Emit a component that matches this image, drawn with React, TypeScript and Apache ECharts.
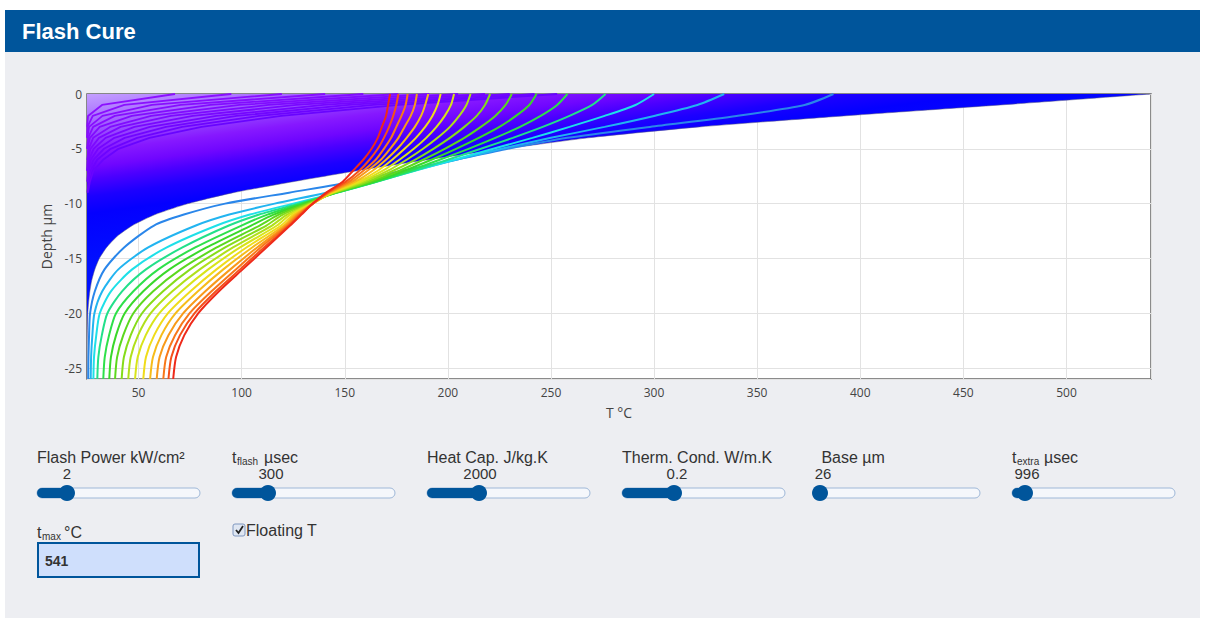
import React, { useEffect, useRef } from "react";
import * as echarts from "echarts";

// ---------- DATA (read / estimated from the reference picture) ----------
// Final profile at the end of the flash (depth in µm -> T in °C); fills the violet/blue band
const flashEndDepths = [0, 1, 2, 3, 4, 5, 6, 7, 8, 9, 10, 11, 12, 13, 14, 15, 16, 17, 18, 19, 20, 22, 24, 26];
const flashEndTemps = [541, 468, 392, 322, 268, 228, 190, 156, 125, 96, 74, 58, 47, 39.5, 34.5, 31, 28.8, 27.3, 26.4, 25.8, 25.4, 25.1, 25, 25];

// Early flash profiles (1 µm depth steps starting at the surface)
const earlyFlashTemps = [
  [67.7, 32.3, 25.5, 25],
  [95, 43.1, 27.8, 25.2, 25],
  [119.5, 56.5, 32.5, 26.0, 25.1],
  [140.5, 70.5, 38.5, 28.0, 25.5, 25],
  [159, 84.9, 46.7, 31.2, 26.4, 25.2],
  [176, 99, 56.1, 36.2, 28.0, 25.8, 25.1],
  [191, 113, 65.7, 41.3, 30.8, 26.7, 25.3, 25],
  [205, 126.5, 76.3, 48, 34, 28.2, 26, 25.2],
  [218, 139.8, 87.7, 55.5, 38.3, 30.4, 26.8, 25.6, 25.1],
  [230, 152, 97.6, 63.3, 43.3, 33.2, 28.1, 26.2, 25.3],
  [242, 163.9, 108.5, 71.2, 49.3, 36.5, 29.9, 27, 25.8, 25.2],
  [253, 176.4, 119.2, 80.6, 55.3, 40.3, 32.8, 28.1, 26.4, 25.4],
];

// Post-flash (cooling) profiles, first (cyan/blue) to last (red)
const postDepths = [0, 1, 2, 3, 4, 5, 6, 7, 8, 9, 10, 11, 12, 14, 16, 18, 20, 22, 24, 26];
const postFlashTemps = [
  [387, 373, 340, 298, 258, 229, 204, 178, 154, 123, 92, 72, 57.5, 43, 33.5, 28.8, 26.5, 26.0, 25.7, 25.6],
  [334, 321, 300, 276, 250, 226, 204, 183, 162, 141, 116, 94, 77.8, 54.7, 40.2, 32.4, 28.6, 27.6, 27.0, 26.8],
  [300, 291, 276, 259, 241, 222, 203, 184, 165, 146, 125, 104, 87.9, 63.7, 46.9, 36.6, 31.2, 29.5, 28.4, 28.1],
  [276.5, 270, 259, 246, 231.5, 216, 200, 183.5, 165.5, 146.5, 127.5, 108.5, 93.8, 71.3, 53.6, 42.0, 34.9, 32.2, 30.5, 30.0],
  [258, 253, 245, 235, 223, 210, 196, 181.5, 165, 146, 129, 112.5, 99.9, 77.5, 59.6, 47.5, 39.1, 35.7, 33.6, 32.9],
  [243, 239.5, 233, 225, 215, 204, 192, 179, 164, 146, 130.5, 115.5, 104.6, 83, 65, 52.3, 43.3, 39.1, 36.6, 35.8],
  [231, 228, 223, 216, 208, 198.5, 188, 176.5, 162.5, 145.5, 131.5, 118, 108.7, 87.9, 70.4, 57.1, 47.5, 42.6, 39.6, 38.6],
  [220.5, 218, 214, 208, 201, 193, 184, 173.5, 161, 145, 132.5, 120, 112, 92, 75, 61.9, 51.7, 46.2, 42.9, 41.8],
  [211, 209, 205.5, 201, 195, 188, 180, 171, 159.5, 144.5, 133.5, 122, 114.7, 95.8, 79.7, 66.4, 55.9, 49.8, 46.2, 45.0],
  [203, 201.5, 198.5, 194.5, 189.5, 183.5, 176.5, 168.5, 158, 144, 134, 123.5, 117.1, 99.2, 83.8, 70.9, 60.1, 53.5, 49.6, 48.3],
  [196.5, 195, 192.5, 189, 184.5, 179, 173, 166, 156.5, 143.5, 134.5, 125, 119.1, 102.3, 87.8, 75.2, 64.3, 57.6, 53.6, 52.3],
  [190.5, 189, 187, 184, 180, 175.5, 170, 163.5, 155, 143, 134.5, 126, 120.5, 105.1, 91.1, 78.8, 68, 61.1, 57.0, 55.6],
  [185, 184, 182, 179, 176, 172, 167.5, 161, 153.5, 142.5, 134.5, 127, 121.5, 107.5, 94.5, 82.4, 71.7, 64.5, 60.2, 58.8],
  [180.5, 179.5, 177.5, 175, 172.5, 169, 165, 159, 152, 142, 134.5, 127.8, 122.3, 109.2, 97.2, 85.4, 74.8, 67.7, 63.4, 62.0],
  [176, 175, 173.5, 171.5, 169, 166, 162, 157, 150.5, 141.5, 134.5, 128.5, 123, 110.8, 99.2, 87.5, 77.2, 70.1, 65.9, 64.5],
  [172, 171, 170, 168, 166, 163, 159, 154, 149, 141, 134.5, 129, 123.5, 112, 100.5, 89, 79, 72.2, 68.2, 66.8],
];

const earlyColors = ["#8c10ff", "#8a10ff", "#880eff", "#860eff", "#820cff", "#800cff", "#7c0aff", "#7808ff", "#7406ff", "#7006ff", "#6c04ff", "#6804ff"];
const postColors = ["#2a86ea", "#22b4f0", "#1ee0e8", "#22e08a", "#2ee04a", "#3ad82a", "#5cd81e", "#86dc1a", "#b0e01a", "#d8e41a", "#f0dc1a", "#f6bc1a", "#f89a1a", "#f8781a", "#f4501a", "#ee2a1a"];

// Controls
const sliderLabels = ["Flash Power kW/cm²", "", "Heat Cap. J/kg.K", "Therm. Cond. W/m.K", " Base µm", ""];
const sliderValues = ["2", "300", "2000", "0.2", "26", "996"];
const sliderX = [37, 232, 427, 622, 817, 1012];
const sliderThumbX = [67, 268, 479, 674, 820, 1025];
const valueCenterX = [67, 271, 480, 677, 823, 1027];

const FONT = '"Liberation Sans", Arial, sans-serif';
const BLUE = "#00559b";

export default function App() {
  const ref = useRef<HTMLDivElement>(null);

  useEffect(() => {
    const chart = echarts.init(ref.current as HTMLDivElement, null, { renderer: "svg", width: 1205, height: 621 });

    const series: any[] = [];
    series.push({
      type: "line",
      data: flashEndTemps.map((t, i) => [t, -flashEndDepths[i]]),
      symbol: "none",
      smooth: 0.2,
      silent: true,
      lineStyle: { color: "rgba(90,90,130,0.5)", width: 1 },
      areaStyle: {
        origin: "end",
        opacity: 1,
        color: new echarts.graphic.LinearGradient(0, 0, 0.24, 0.48, [
          { offset: 0, color: "#c4a0ff" },
          { offset: 0.12, color: "#ad78ff" },
          { offset: 0.24, color: "#9648ff" },
          { offset: 0.34, color: "#8618ff" },
          { offset: 0.43, color: "#7006ff" },
          { offset: 0.5, color: "#4c00ff" },
          { offset: 0.6, color: "#1c00ff" },
          { offset: 0.7, color: "#0400ff" },
          { offset: 1, color: "#0010ff" },
        ]),
      },
    });
    earlyFlashTemps.forEach((arr, k) => {
      series.push({
        type: "line",
        data: arr.map((t, i) => [t, -i]),
        symbol: "none",
        silent: true,
        lineStyle: { color: earlyColors[k], width: 1.8 },
      });
    });
    postFlashTemps.forEach((arr, k) => {
      series.push({
        type: "line",
        data: arr.map((t, i) => [t, -postDepths[i]]),
        symbol: "none",
        smooth: 0.25,
        silent: true,
        lineStyle: { color: postColors[k], width: 2 },
      });
    });

    const graphics: any[] = [
      { type: "rect", z: -10, shape: { x: 5, y: 10, width: 1195, height: 42 }, style: { fill: BLUE } },
      { type: "rect", z: -10, shape: { x: 5, y: 52, width: 1195, height: 566 }, style: { fill: "#edeef2" } },
      {
        type: "text", z: 5, x: 22, y: 31,
        style: { text: "Flash Cure", font: `bold 22px ${FONT}`, fill: "#ffffff", textVerticalAlign: "middle", verticalAlign: "middle" },
      },
    ];

    const txt = (text: string, x: number, y: number, size = 16, extra: any = {}) => ({
      type: "text", z: 5, x, y,
      style: { text, font: `${extra.bold ? "bold " : ""}${size}px ${FONT}`, fill: "#333333", textVerticalAlign: "middle", verticalAlign: "middle", textAlign: extra.align || "left", align: extra.align || "left" },
    });

    sliderX.forEach((sx, i) => {
      if (sliderLabels[i]) graphics.push(txt(sliderLabels[i], sx, 457));
      graphics.push(txt(sliderValues[i], valueCenterX[i], 473, 15, { align: "center" }));
      graphics.push({ type: "rect", z: 4, shape: { x: sx, y: 488, width: 163, height: 10, r: 5 }, style: { fill: "#f5f7fb", stroke: "#9fb8d8", lineWidth: 1 } });
      graphics.push({ type: "rect", z: 4, shape: { x: sx, y: 488, width: sliderThumbX[i] - sx, height: 10, r: 5 }, style: { fill: BLUE } });
      graphics.push({ type: "circle", z: 5, shape: { cx: sliderThumbX[i], cy: 493, r: 8 }, style: { fill: BLUE } });
    });
    // subscripted labels
    graphics.push(txt("t", 232, 457));
    graphics.push(txt("flash", 237, 461, 10));
    graphics.push(txt("µsec", 264, 457));
    graphics.push(txt("t", 1012, 457));
    graphics.push(txt("extra", 1017, 461, 10));
    graphics.push(txt("µsec", 1044, 457));
    graphics.push(txt("t", 37, 532));
    graphics.push(txt("max", 42, 536, 10));
    graphics.push(txt("°C", 64, 532));
    // input box
    graphics.push({ type: "rect", z: 4, shape: { x: 38, y: 543, width: 161, height: 34 }, style: { fill: "#cfdffc", stroke: BLUE, lineWidth: 2 } });
    graphics.push(txt("541", 45, 561, 14, { bold: true }));
    // checkbox
    graphics.push({ type: "rect", z: 4, shape: { x: 233, y: 524, width: 12, height: 12, r: 2 }, style: { fill: "#dfe6f2", stroke: "#7f97c0", lineWidth: 1 } });
    graphics.push({ type: "polyline", z: 5, shape: { points: [[236, 530], [238.5, 533], [243, 526]] }, style: { stroke: "#222", lineWidth: 1.8, fill: "none" } });
    graphics.push(txt("Floating T", 246, 530));

    const option: any = {
      animation: false,
      backgroundColor: "#ffffff",
      grid: { left: 87, top: 94, width: 1064, height: 285, show: true, backgroundColor: "#ffffff", borderColor: "#666666", borderWidth: 1.5 },
      xAxis: {
        type: "value", min: 25, max: 541, splitNumber: 10,
        name: "T °C", nameLocation: "middle", nameGap: 26,
        nameTextStyle: { color: "#444", fontSize: 14, fontFamily: "Open Sans" },
        axisLine: { show: false }, axisTick: { show: false },
        axisLabel: { color: "#444", fontSize: 12, fontFamily: "Open Sans", margin: 7, showMinLabel: false, showMaxLabel: false },
        splitLine: { show: true, lineStyle: { color: "#e2e2e2", width: 1 } },
      },
      yAxis: {
        type: "value", min: -26, max: 0, splitNumber: 5,
        name: "Depth µm", nameLocation: "middle", nameGap: 30,
        nameTextStyle: { color: "#444", fontSize: 14, fontFamily: "Open Sans" },
        axisLine: { show: false }, axisTick: { show: false },
        axisLabel: { color: "#444", fontSize: 12, fontFamily: "Open Sans", margin: 5, showMinLabel: false },
        splitLine: { show: true, lineStyle: { color: "#e2e2e2", width: 1 } },
      },
      series,
      graphic: { elements: graphics },
    };
    chart.setOption(option);
    return () => chart.dispose();
  }, []);

  return <div ref={ref} style={{ position: "fixed", left: 0, top: 0, width: 1205, height: 621 }} />;
}
